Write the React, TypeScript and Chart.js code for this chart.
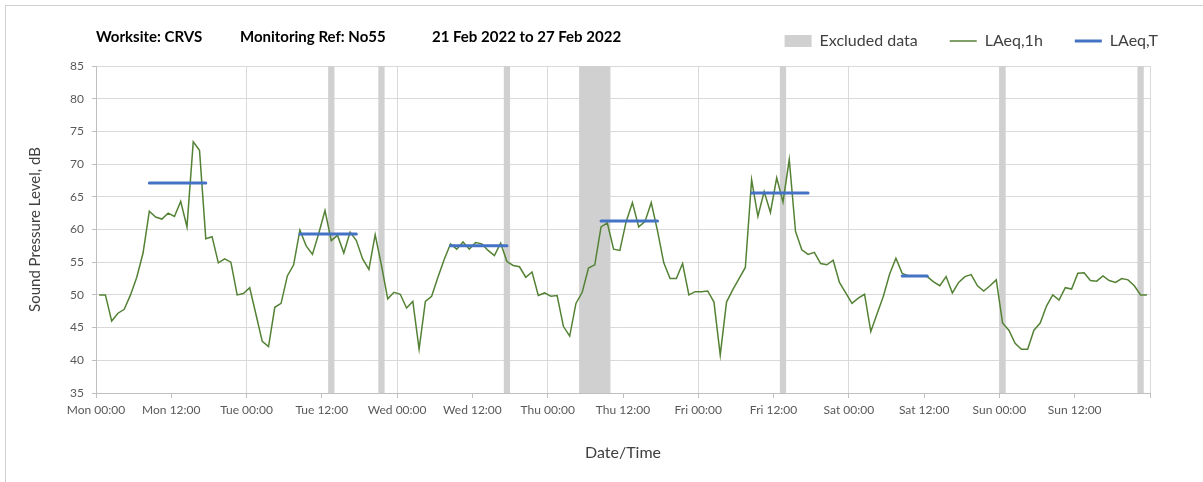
import React, { useEffect, useRef } from 'react';
import { Chart, registerables } from 'chart.js';

Chart.register(...registerables);

// ---- Data ----
const titleParts = ['Worksite: CRVS', 'Monitoring Ref: No55', '21 Feb 2022 to 27 Feb 2022'];

const xTickLabels = [
  'Mon 00:00', 'Mon 12:00', 'Tue 00:00', 'Tue 12:00', 'Wed 00:00', 'Wed 12:00', 'Thu 00:00',
  'Thu 12:00', 'Fri 00:00', 'Fri 12:00', 'Sat 00:00', 'Sat 12:00', 'Sun 00:00', 'Sun 12:00', '',
];

// Hourly LAeq,1h values (Mon 00:00 .. Sun 23:00), dB
const laeq1hMon = [50.0, 50.0, 46.0, 47.2, 47.8, 50.0, 52.7, 56.4, 62.8, 61.9, 61.6, 62.5, 62.0, 64.3, 60.4, 73.4, 72.1, 58.6, 58.9, 54.9, 55.5, 55.0, 50.0, 50.2];
const laeq1hTue = [51.1, 47.0, 42.9, 42.1, 48.1, 48.7, 52.9, 54.6, 59.9, 57.5, 56.2, 59.4, 62.9, 58.3, 59.1, 56.4, 59.6, 58.3, 55.5, 53.9, 59.2, 54.5, 49.4, 50.4];
const laeq1hWed = [50.1, 48.0, 49.0, 41.7, 49.0, 49.8, 52.7, 55.4, 57.8, 57.0, 58.1, 57.0, 58.0, 57.8, 56.8, 56.0, 57.9, 55.1, 54.5, 54.3, 52.7, 53.5, 49.9, 50.3];
const laeq1hThu = [49.8, 49.9, 45.2, 43.7, 48.7, 50.4, 54.1, 54.6, 60.4, 61.0, 57.0, 56.8, 61.2, 64.1, 60.4, 61.2, 64.1, 59.8, 54.9, 52.5, 52.5, 54.8, 50.0, 50.5];
const laeq1hFri = [50.5, 50.6, 48.9, 40.8, 48.9, 50.8, 52.5, 54.2, 67.6, 62.0, 65.8, 62.6, 67.9, 64.2, 70.7, 59.7, 56.9, 56.2, 56.5, 54.8, 54.6, 55.3, 51.9, 50.3];
const laeq1hSat = [48.7, 49.5, 50.1, 44.4, 47.1, 49.8, 53.2, 55.6, 53.3, 52.9, 52.9, 52.9, 52.8, 52.0, 51.4, 52.8, 50.3, 51.9, 52.8, 53.1, 51.4, 50.6, 51.4, 52.3];
const laeq1hSun = [45.7, 44.6, 42.6, 41.7, 41.7, 44.6, 45.7, 48.3, 50.0, 49.2, 51.1, 50.9, 53.3, 53.4, 52.2, 52.1, 52.9, 52.2, 51.9, 52.5, 52.3, 51.4, 50.0, 50.0];

// LAeq,T periods (hours from Mon 00:00) and levels
const laeqTStart = [8.5, 32.5, 56.5, 80.5, 104.5, 128.5];
const laeqTEnd = [17.5, 41.5, 65.5, 89.5, 113.5, 132.5];
const laeqTValues = [67.1, 59.3, 57.5, 61.3, 65.6, 52.9];

// Excluded data periods (hours from Mon 00:00)
const excludedStart = [37, 45, 65, 77, 109, 144, 166];
const excludedEnd = [38, 46, 66, 82, 110, 145, 167];

const laeq1h = [
  ...laeq1hMon, ...laeq1hTue, ...laeq1hWed, ...laeq1hThu, ...laeq1hFri, ...laeq1hSat, ...laeq1hSun,
];

export default function App() {
  const ref = useRef<HTMLCanvasElement>(null);

  useEffect(() => {
    const canvas = ref.current;
    if (!canvas) return;
    const green = '#548235';
    const blue = '#4472C4';
    const bandColor = '#d0d0d0';
    const fam = 'Lato, "Open Sans", sans-serif';
    const textColor = '#404040';

    const hourlyPoints = laeq1h.map((v, i) => ({ x: i + 0.5, y: v }));
    const tPoints: { x: number; y: number | null }[] = [];
    laeqTValues.forEach((v, i) => {
      tPoints.push({ x: laeqTStart[i], y: v });
      tPoints.push({ x: laeqTEnd[i], y: v });
      tPoints.push({ x: laeqTEnd[i] + 0.5, y: null });
    });

    const bandsPlugin = {
      id: 'excludedBands',
      beforeDatasetsDraw(chart: any) {
        const { ctx, chartArea, scales } = chart;
        const xs = scales.x;
        ctx.save();
        ctx.fillStyle = bandColor;
        excludedStart.forEach((s, i) => {
          const x0 = xs.getPixelForValue(s);
          const x1 = xs.getPixelForValue(excludedEnd[i]);
          ctx.fillRect(x0, chartArea.top, x1 - x0, chartArea.bottom - chartArea.top);
        });
        ctx.restore();
      },
    };

    const titlePlugin = {
      id: 'headerTitle',
      afterDraw(chart: any) {
        const { ctx, chartArea } = chart;
        const offsets = [0, 144, 336];
        ctx.save();
        ctx.font = `bold 15px ${fam}`;
        ctx.fillStyle = '#000000';
        ctx.textBaseline = 'middle';
        ctx.textAlign = 'left';
        titleParts.forEach((t, i) => {
          ctx.fillText(t, chartArea.left + offsets[i], 37);
        });
        ctx.restore();
      },
    };

    const legendShift = {
      id: 'legendShift',
      afterLayout(chart: any) {
        const lg = chart.legend;
        if (!lg) return;
        lg.top -= 7;
        lg.bottom -= 7;
        lg.left += 40;
        lg.right += 40;
      },
    };

    const chart = new Chart(canvas, {
      type: 'line',
      data: {
        datasets: [
          {
            label: 'LAeq,1h',
            data: hourlyPoints as any,
            borderColor: green,
            backgroundColor: green,
            borderWidth: 1.5,
            pointRadius: 0,
            tension: 0,
            order: 2,
          },
          {
            label: 'LAeq,T',
            data: tPoints as any,
            borderColor: blue,
            backgroundColor: blue,
            borderWidth: 3,
            borderCapStyle: 'round',
            pointRadius: 0,
            spanGaps: false,
            order: 1,
          },
        ],
      },
      options: {
        animation: false,
        responsive: false,
        devicePixelRatio: 1,
        layout: { padding: { left: 0, right: 53, top: 8, bottom: 0 } },
        plugins: {
          tooltip: { enabled: false },
          title: { display: false },
          legend: {
            display: true,
            position: 'top',
            align: 'end',
            labels: {
              usePointStyle: true,
              pointStyleWidth: 27,
              boxHeight: 12,
              padding: 32,
              color: textColor,
              font: { family: fam, size: 16 },
              generateLabels: () => [
                { text: 'Excluded data', fillStyle: bandColor, strokeStyle: bandColor, lineWidth: 0, pointStyle: 'rect', fontColor: textColor, hidden: false } as any,
                { text: 'LAeq,1h', fillStyle: green, strokeStyle: green, lineWidth: 1.5, pointStyle: 'line', fontColor: textColor, hidden: false, datasetIndex: 0 } as any,
                { text: 'LAeq,T', fillStyle: blue, strokeStyle: blue, lineWidth: 3, pointStyle: 'line', fontColor: textColor, hidden: false, datasetIndex: 1 } as any,
              ],
            },
          },
        },
        scales: {
          x: {
            type: 'linear',
            min: 0,
            max: 168,
            afterFit: (s: any) => { s.height = 89; },
            ticks: {
              stepSize: 12,
              autoSkip: false,
              maxRotation: 0,
              padding: 5,
              color: '#595959',
              font: { family: fam, size: 12 },
              callback: (_v: any, i: number) => xTickLabels[i] ?? '',
            },
            grid: {
              color: (c: any) => (c.tick && c.tick.value % 24 === 0 ? '#d9d9d9' : 'rgba(0,0,0,0)'),
              tickColor: '#bfbfbf',
              tickLength: 5,
              lineWidth: 1,
            },
            border: { color: '#bfbfbf', width: 1 },
            title: {
              display: true,
              text: 'Date/Time',
              color: textColor,
              font: { family: fam, size: 16 },
              padding: { top: 0, bottom: 20 },
            },
          },
          y: {
            min: 35,
            max: 85,
            afterFit: (s: any) => { s.width = 96; },
            ticks: {
              stepSize: 5,
              padding: 8,
              color: '#595959',
              font: { family: fam, size: 12 },
            },
            grid: {
              color: '#d9d9d9',
              tickColor: '#bfbfbf',
              tickLength: 4,
              lineWidth: 1,
            },
            border: { color: '#bfbfbf', width: 1 },
            title: {
              display: true,
              text: 'Sound Pressure Level, dB',
              color: textColor,
              font: { family: fam, size: 15 },
              padding: { top: 26, bottom: 0 },
            },
          },
        },
      },
      plugins: [bandsPlugin, titlePlugin, legendShift],
    });

    return () => chart.destroy();
  }, []);

  return (
    <div style={{ position: 'absolute', left: 0, top: 0, width: 1203, height: 482, overflow: 'hidden', background: '#ffffff' }}>
      <div
        style={{
          position: 'absolute',
          left: 5,
          top: 5,
          width: 1260,
          height: 520,
          border: '1px solid #d0d0d0',
          boxSizing: 'border-box',
          pointerEvents: 'none',
        }}
      />
      <canvas ref={ref} width={1203} height={482} style={{ position: 'absolute', left: 0, top: 0, width: 1203, height: 482 }} />
    </div>
  );
}
